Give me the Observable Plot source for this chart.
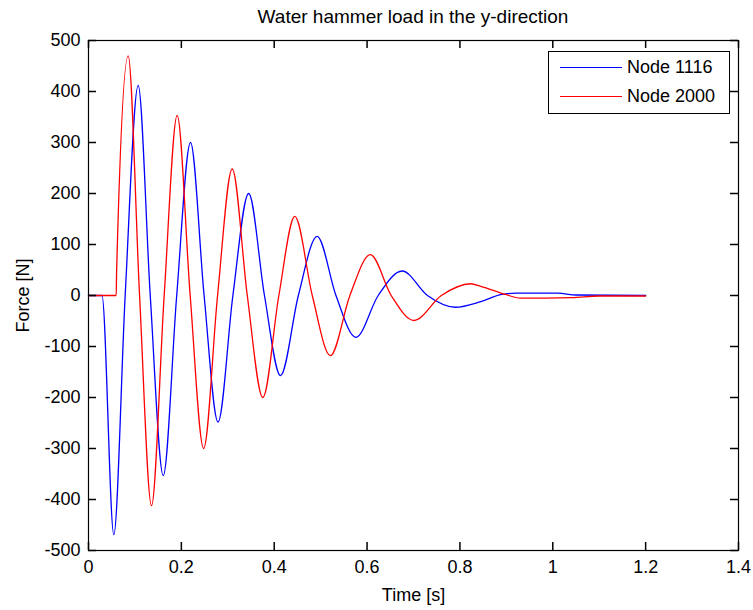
<!DOCTYPE html>
<html>
<head>
<meta charset="utf-8">
<script src="https://cdn.jsdelivr.net/npm/d3@7"></script>
<script src="https://cdn.jsdelivr.net/npm/@observablehq/plot@0.6"></script>
<style>
  body { margin: 0; background: white; }
  #wrap { position: relative; width: 753px; height: 610px; background: white; font-family: "Liberation Sans", Arial, sans-serif; }
  #title { height: 30px; line-height: 34px; font-size: 19px; padding-left: 73px; text-align: center; color: black; }
  #legend { position: absolute; left: 548px; top: 51px; width: 180px; height: 61px; border: 1px solid black; background: white; font-size: 18px; }
  .row { position: absolute; left: 0; height: 20px; }
  .sample { position: absolute; left: 11px; width: 62px; top: 9px; height: 0; border-top: 1.3px solid; }
  .lbl { position: absolute; left: 78px; top: -1px; white-space: nowrap; line-height: 20px; }
</style>
</head>
<body>
<div id="wrap">
  <div id="title">Water hammer load in the y-direction</div>
  <div id="chart"></div>
  <div id="legend"></div>
</div>
<script>
const seriesNames = ["Node 1116", "Node 2000"];
const seriesColors = ["#0000ff", "#ff0000"];

// Node 1116 (blue)
const t1116 = [0, 0.029, 0.0545, 0.079, 0.107, 0.133, 0.161, 0.190, 0.2197, 0.249, 0.279, 0.311, 0.345, 0.379, 0.4135, 0.452, 0.4925, 0.533, 0.5757, 0.624, 0.6756, 0.730, 0.790, 0.845, 0.890, 0.920, 1.010, 1.050, 1.200];
const f1116 = [0, 0, -469, 0, 412, 0, -353, 0, 300, 0, -248, 0, 200, 0, -157, 0, 116, 0, -82, 0, 48, 0, -23, -12, 2, 4.5, 4.5, 1, 0];

// Node 2000 (red)
const t2000 = [0, 0.0597, 0.0605, 0.0855, 0.110, 0.1357, 0.163, 0.191, 0.219, 0.248, 0.278, 0.3095, 0.342, 0.3755, 0.410, 0.4444, 0.482, 0.521, 0.563, 0.607, 0.652, 0.7007, 0.760, 0.823, 0.845, 0.898, 0.930, 1.040, 1.100, 1.200];
const f2000 = [0, 0, 46, 470, 0, -412, 0, 353, 0, -300, 0, 248, 0, -200, 0, 155, 0, -118, 0, 80, 0, -49, 0, 23, 18, 2, -5, -4, -1, -1];

const xTicks = [0, 0.2, 0.4, 0.6, 0.8, 1, 1.2, 1.4];
const yTicks = [-500, -400, -300, -200, -100, 0, 100, 200, 300, 400, 500];

const data = [
  ...t1116.map((t, i) => ({t, f: f1116[i], series: seriesNames[0]})),
  ...t2000.map((t, i) => ({t, f: f2000[i], series: seriesNames[1]}))
];

const W = 753, H = 580, ML = 88, MR = 15, MT = 10, MB = 60, TICK = 8;
const innerW = W - ML - MR, innerH = H - MT - MB;

const chart = Plot.plot({
  width: W,
  height: H,
  marginLeft: ML,
  marginRight: MR,
  marginTop: MT,
  marginBottom: MB,
  style: {fontFamily: "'Liberation Sans', Arial, sans-serif", fontSize: "18px", color: "black", background: "white", overflow: "visible"},
  x: {domain: [0, 1.4]},
  y: {domain: [-500, 500]},
  color: {domain: seriesNames, range: seriesColors},
  marks: [
    Plot.line(data, {x: "t", y: "f", z: "series", stroke: "series", curve: "monotone-x", strokeWidth: 1.3}),
    Plot.ruleX(xTicks, {x: d => d, stroke: "black", strokeWidth: 1.5, insetTop: innerH - TICK}),
    Plot.ruleX(xTicks, {x: d => d, stroke: "black", strokeWidth: 1.5, insetBottom: innerH - TICK}),
    Plot.ruleY(yTicks, {y: d => d, stroke: "black", strokeWidth: 1.5, insetRight: innerW - TICK}),
    Plot.ruleY(yTicks, {y: d => d, stroke: "black", strokeWidth: 1.5, insetLeft: innerW - TICK}),
    Plot.frame({stroke: "black", strokeWidth: 1.2}),
    Plot.axisX(xTicks, {anchor: "bottom", tickSize: 0, tickPadding: 10, tickFormat: d => String(d), label: "Time [s]", labelArrow: "none", labelAnchor: "center", labelOffset: 50}),
    Plot.axisY(yTicks, {anchor: "left", tickSize: 0, tickPadding: 8, tickFormat: d => String(d), label: "Force [N]", labelArrow: "none", labelAnchor: "center", labelOffset: 72})
  ]
});
document.getElementById("chart").appendChild(chart);

const legend = document.getElementById("legend");
seriesNames.forEach((name, i) => {
  const row = document.createElement("div");
  row.className = "row";
  row.style.top = (6 + i * 29) + "px";
  row.innerHTML = `<div class="sample" style="border-top-color:${seriesColors[i]}"></div><div class="lbl">${name}</div>`;
  legend.appendChild(row);
});
</script>
</body>
</html>
